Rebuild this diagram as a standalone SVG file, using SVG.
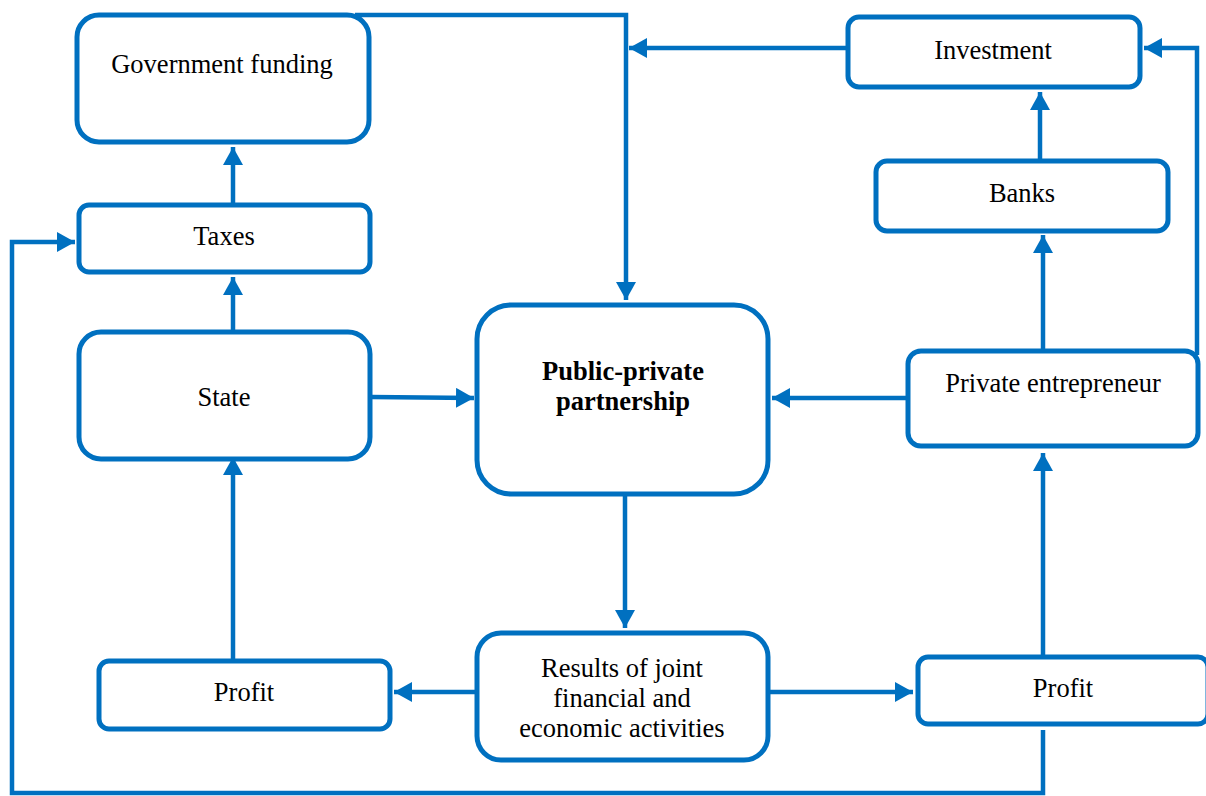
<svg xmlns="http://www.w3.org/2000/svg" width="1206" height="796" viewBox="0 0 1206 796">
<style>
.box{fill:#fff;stroke:#0070C0;stroke-width:5}
.ln{fill:none;stroke:#0070C0;stroke-width:4.5;stroke-linejoin:miter}
.t{font-family:"Liberation Serif","Times New Roman",serif;font-size:26.5px;fill:#000;text-anchor:middle}
.b{font-weight:bold;font-size:26.5px}
</style>
<defs>
<marker id="ah" markerUnits="userSpaceOnUse" markerWidth="20" markerHeight="22" refX="18" refY="10" orient="auto">
<path d="M0,0 L18,10 L0,20 Z" fill="#0070C0"/>
</marker>
</defs>
<rect width="1206" height="796" fill="#fff"/>
<g id="connectors">
<path class="ln" d="M355,15 H626 V300" marker-end="url(#ah)"/>
<path class="ln" d="M846,48 H629" marker-end="url(#ah)"/>
<path class="ln" d="M1040,159 V92" marker-end="url(#ah)"/>
<path class="ln" d="M1043,350 V235" marker-end="url(#ah)"/>
<path class="ln" d="M1197,355 V48 H1144" marker-end="url(#ah)"/>
<path class="ln" d="M907,398 H772" marker-end="url(#ah)"/>
<path class="ln" d="M371,397 L474,398" marker-end="url(#ah)"/>
<path class="ln" d="M233,203 V147" marker-end="url(#ah)"/>
<path class="ln" d="M233,330 V277" marker-end="url(#ah)"/>
<path class="ln" d="M233,660 V457" marker-end="url(#ah)"/>
<path class="ln" d="M625,495 V628" marker-end="url(#ah)"/>
<path class="ln" d="M476,692 H394" marker-end="url(#ah)"/>
<path class="ln" d="M768,692 H913" marker-end="url(#ah)"/>
<path class="ln" d="M1043,655 V453" marker-end="url(#ah)"/>
<path class="ln" d="M1043,730 V793 H12 V242 H75" marker-end="url(#ah)"/>
</g>
<g id="gov"><rect class="box" x="77" y="15" width="292" height="127" rx="22"/><text class="t" x="222" y="73">Government funding</text></g>
<g id="taxes"><rect class="box" x="79" y="205" width="291" height="67" rx="10"/><text class="t" x="224" y="245">Taxes</text></g>
<g id="state"><rect class="box" x="79" y="332" width="291" height="127" rx="22"/><text class="t" x="224" y="406">State</text></g>
<g id="profitL"><rect class="box" x="99" y="661" width="291" height="68" rx="10"/><text class="t" x="244" y="701">Profit</text></g>
<g id="ppp"><rect class="box" x="477" y="305" width="291" height="189" rx="34"/><text class="t b" x="623" y="380">Public-private</text><text class="t b" x="623" y="410">partnership</text></g>
<g id="results"><rect class="box" x="477" y="633" width="291" height="127" rx="24"/><text class="t" x="622" y="677">Results of joint</text><text class="t" x="622" y="707">financial and</text><text class="t" x="622" y="737">economic activities</text></g>
<g id="investment"><rect class="box" x="848" y="17" width="292" height="70" rx="11"/><text class="t" x="993" y="59">Investment</text></g>
<g id="banks"><rect class="box" x="876" y="161" width="292" height="70" rx="11"/><text class="t" x="1022" y="202">Banks</text></g>
<g id="pe"><rect class="box" x="908" y="351" width="290" height="95" rx="13"/><text class="t" x="1053" y="392">Private entrepreneur</text></g>
<g id="profitR"><rect class="box" x="918" y="657" width="290" height="67" rx="10"/><text class="t" x="1063" y="697">Profit</text></g>
</svg>
